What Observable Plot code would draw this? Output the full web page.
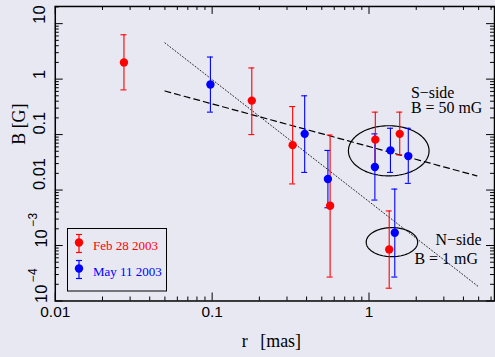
<!DOCTYPE html>
<html><head><meta charset="utf-8">
<script src="https://cdn.jsdelivr.net/npm/d3@7"></script>
<script src="https://cdn.jsdelivr.net/npm/@observablehq/plot@0.6"></script>
<style>
html,body{margin:0;padding:0;background:#e8e8f3;overflow:hidden}
#wrap{position:relative;width:495px;height:357px;overflow:hidden;background:#e8e8f3}
#wrap svg{position:absolute;left:0;top:0}
</style></head><body><div id="wrap"></div>
<script>
// ---- data ----
const febR  = [0.0274, 0.179, 0.326, 0.565, 1.097, 1.57, 1.345];
const febB  = [2.0, 0.41, 0.0645, 0.0052, 0.081, 0.103, 0.00085];
const febLo = [0.64, 0.10, 0.0129, 0.00027, 0.026, 0.043, 0.00017];
const febHi = [6.3, 1.59, 0.32, 0.098, 0.254, 0.254, 0.0042];

const mayR  = [0.0975, 0.389, 0.547, 1.09, 1.37, 1.78, 1.46];
const mayB  = [0.80, 0.103, 0.0158, 0.026, 0.052, 0.041, 0.0017];
const mayLo = [0.254, 0.0208, 0.0048, 0.0066, 0.0208, 0.0132, 0.00027];
const mayHi = [2.5, 0.50, 0.0518, 0.103, 0.13, 0.13, 0.0104];

const dottedR = [0.05, 5.0],  dottedB = [4.5, 0.00018];
const dashedR = [0.05, 4.87], dashedB = [0.61, 0.018];

// ellipses: centre (r, B) and half-axes in decades
const sCentre = [1.336, 0.051], sRadii = [0.257, 0.452];
const nCentre = [1.40, 0.00115], nRadii = [0.164, 0.262];

const seriesNames = ["Feb 28 2003", "May 11 2003"];
const seriesColors = ["#ff0000", "#0000ff"];

const xMajor = [0.01, 0.1, 1];
const xTickLabels = ["0.01", "0.1", "1"];
const yMajor = [1e-4, 1e-3, 0.01, 0.1, 1, 10];
const yTickLabels = ["10", "10", "0.01", "0.1", "1", "10"];
const ySupLabels = ["\u22124", "\u22123", "", "", "", ""];

// ---- layout ----
const W = 497, H = 357, mL = 55, mR = 1, mT = 6, mB = 55.3;
const FW = W - mL - mR, FH = H - mT - mB;
const xMax = 6.31, yMax = 20.4;

const xMinor = [];
for (const d of [0.01, 0.1, 1]) for (let k = 2; k <= 9; k++) { const v = d * k; if (v <= xMax) xMinor.push(v); }
const yMinor = [];
for (const d of [1e-4, 1e-3, 0.01, 0.1, 1, 10]) for (let k = 2; k <= 9; k++) { const v = d * k; if (v <= yMax) yMinor.push(v); }

const mk = (R, B, L, Hh) => R.map((r, i) => ({r, B: B[i], lo: L[i], hi: Hh[i]}));
const feb = mk(febR, febB, febLo, febHi);
const may = mk(mayR, mayB, mayLo, mayHi);

function ellipse(c, rad) {
  const pts = [];
  for (let i = 0; i <= 120; i++) {
    const t = i / 120 * 2 * Math.PI;
    pts.push({r: Math.pow(10, Math.log10(c[0]) + rad[0] * Math.cos(t)),
              B: Math.pow(10, Math.log10(c[1]) + rad[1] * Math.sin(t))});
  }
  return pts;
}
const serif = "Liberation Serif, Times New Roman, serif";
const sans = "Liberation Sans, Arial, sans-serif";

function errMarks(data, color) {
  return [
    Plot.ruleX(data, {x: "r", y1: "lo", y2: "hi", stroke: color, strokeWidth: 1.1}),
    Plot.ruleY(data, {y: "hi", x1: "r", x2: "r", insetLeft: -3, insetRight: -3, stroke: color, strokeWidth: 1.1}),
    Plot.ruleY(data, {y: "lo", x1: "r", x2: "r", insetLeft: -3, insetRight: -3, stroke: color, strokeWidth: 1.1}),
  ];
}

const chart = Plot.plot({
  width: W, height: H, marginLeft: mL, marginRight: mR, marginTop: mT, marginBottom: mB,
  x: {type: "log", domain: [0.01, xMax], axis: null},
  y: {type: "log", domain: [1e-4, yMax], axis: null},
  style: {background: "transparent", fontFamily: sans, overflow: "visible"},
  marks: [
    // ticks
    Plot.ruleX(xMajor, {x: d => d, insetTop: FH - 8, stroke: "black"}),
    Plot.ruleX(xMajor, {x: d => d, insetBottom: FH - 8, stroke: "black"}),
    Plot.ruleX(xMinor, {x: d => d, insetTop: FH - 4, stroke: "black"}),
    Plot.ruleX(xMinor, {x: d => d, insetBottom: FH - 4, stroke: "black"}),
    Plot.ruleY(yMajor, {y: d => d, insetRight: FW - 8, stroke: "black"}),
    Plot.ruleY(yMajor, {y: d => d, insetLeft: FW - 8, stroke: "black"}),
    Plot.ruleY(yMinor, {y: d => d, insetRight: FW - 4, stroke: "black"}),
    Plot.ruleY(yMinor, {y: d => d, insetLeft: FW - 4, stroke: "black"}),
    Plot.frame({stroke: "black", strokeWidth: 1.5}),
    // tick labels
    Plot.text(xMajor, {x: d => d, text: (d, i) => xTickLabels[i], frameAnchor: "bottom", dy: 16, fontSize: 15.5, fill: "black"}),
    Plot.text(yMajor.slice(2), {y: d => d, text: (d, i) => yTickLabels[i + 2], frameAnchor: "left", dx: -16, rotate: -90, fontSize: 16.5, fill: "black"}),
    Plot.text(yMajor.slice(0, 2), {y: d => d, text: (d, i) => yTickLabels[i], frameAnchor: "left", dx: -14, dy: 2, rotate: -90, fontSize: 16.5, fill: "black"}),
    Plot.text(yMajor.slice(0, 2), {y: d => d, text: (d, i) => ySupLabels[i], frameAnchor: "left", dx: -22.5, dy: -19, rotate: -90, fontSize: 12, fill: "black"}),
    // axis titles
    Plot.text(["B [G]"], {text: d => d, frameAnchor: "left", dx: 19 - mL, dy: -9, rotate: -90, fontSize: 18, fontFamily: serif, fill: "black"}),
    Plot.text(["r\u2002\u2009[mas]"], {text: d => d, frameAnchor: "bottom", dx: -3.5, dy: 46.5, fontSize: 18, fontFamily: serif, fill: "black"}),
    // model lines
    Plot.line(dottedR.map((r, i) => ({r, B: dottedB[i]})), {x: "r", y: "B", stroke: "#222", strokeWidth: 1, strokeDasharray: "1,2.2"}),
    Plot.line(dashedR.map((r, i) => ({r, B: dashedB[i]})), {x: "r", y: "B", stroke: "black", strokeWidth: 1.2, strokeDasharray: "6,4"}),
    // ellipses
    Plot.line(ellipse(sCentre, sRadii), {x: "r", y: "B", stroke: "black", strokeWidth: 1.2}),
    Plot.line(ellipse(nCentre, nRadii), {x: "r", y: "B", stroke: "black", strokeWidth: 1.2}),
    // annotations
    Plot.text([{r: 1.85, B: 0.57, t: "S\u2212side"}, {r: 1.85, B: 0.30, t: "B = 50 mG"}],
      {x: "r", y: "B", text: "t", textAnchor: "start", fontSize: 16, fontFamily: serif, fill: "black"}),
    Plot.text([{r: 5.22, B: 0.00124, t: "N\u2212side"}], {x: "r", y: "B", text: "t", textAnchor: "end", fontSize: 16, fontFamily: serif, fill: "black"}),
    Plot.text([{r: 1.95, B: 0.000565, t: "B = 1 mG"}], {x: "r", y: "B", text: "t", textAnchor: "start", fontSize: 16, fontFamily: serif, fill: "black"}),
    // data
    ...errMarks(may, seriesColors[1]),
    ...errMarks(feb, seriesColors[0]),
    Plot.dot(may, {x: "r", y: "B", r: 4.2, fill: seriesColors[1]}),
    Plot.dot(feb, {x: "r", y: "B", r: 4.2, fill: seriesColors[0]}),
  ]
});
const wrap = document.getElementById("wrap");
wrap.appendChild(chart);

// legend box
const ns = "http://www.w3.org/2000/svg";
const lg = document.createElementNS(ns, "svg");
lg.setAttribute("width", 495); lg.setAttribute("height", 357);
let html = `<rect x="67.5" y="228.5" width="99" height="62.5" fill="none" stroke="black" stroke-width="1"/>`;
seriesNames.forEach((name, i) => {
  const cy = 242.5 + i * 26, c = seriesColors[i];
  html += `<line x1="79" x2="79" y1="${cy - 8}" y2="${cy + 10}" stroke="${c}" stroke-width="1.2"/>`;
  html += `<line x1="76" x2="82" y1="${cy - 8}" y2="${cy - 8}" stroke="${c}" stroke-width="1.2"/>`;
  html += `<line x1="76" x2="82" y1="${cy + 10}" y2="${cy + 10}" stroke="${c}" stroke-width="1.2"/>`;
  html += `<circle cx="79" cy="${cy}" r="4.2" fill="${c}"/>`;
  html += `<text x="93" y="${cy + 7}" fill="${c}" font-family="${serif}" font-size="13">${name}</text>`;
});
lg.innerHTML = html;
wrap.appendChild(lg);
</script></body></html>
